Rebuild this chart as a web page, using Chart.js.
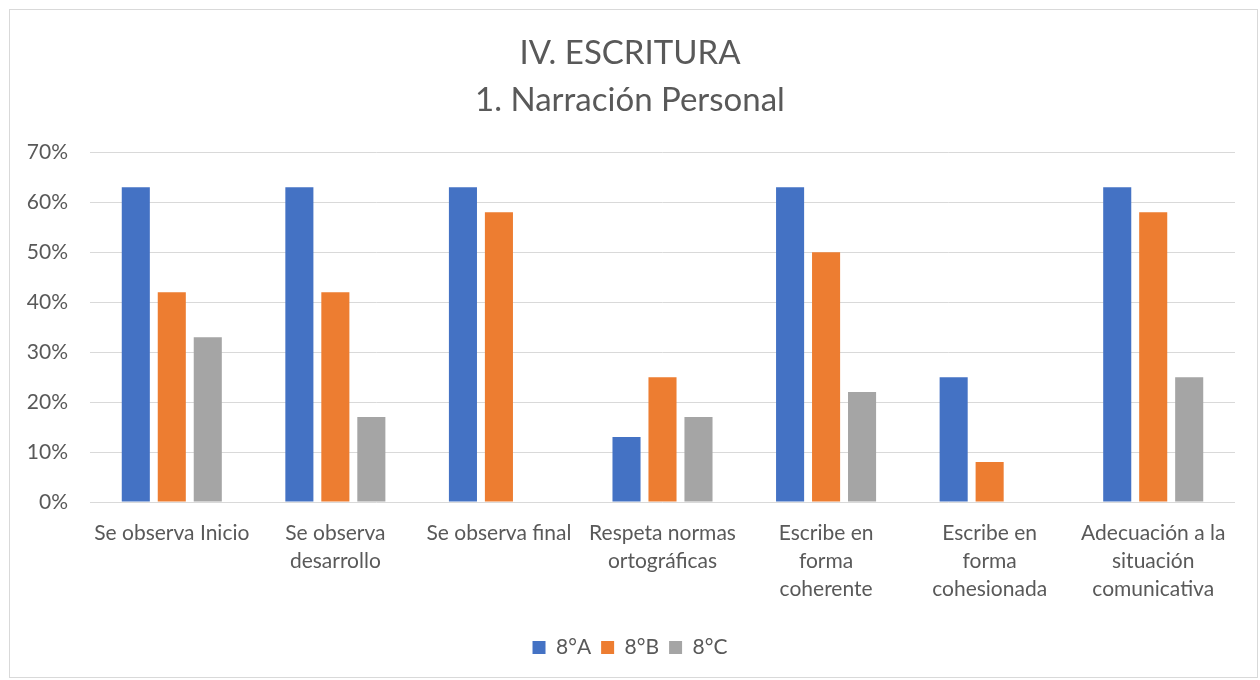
<!DOCTYPE html>
<html>
<head>
<meta charset="utf-8">
<script src="https://cdn.jsdelivr.net/npm/chart.js@4"></script>
<style>
  body { margin: 0; background: #fff; }
  #wrap { width: 1260px; height: 680px; position: relative; }
</style>
</head>
<body>
<div id="wrap"><canvas id="chart"></canvas></div>
<script>
const categories = [
  'Se observa Inicio',
  ['Se observa', 'desarrollo'],
  'Se observa final',
  ['Respeta normas', 'ortográficas'],
  ['Escribe en', 'forma', 'coherente'],
  ['Escribe en', 'forma', 'cohesionada'],
  ['Adecuación a la', 'situación', 'comunicativa']
]
const seriesNames = ['8°A', '8°B', '8°C']
const valuesA = [63, 63, 63, 13, 63, 25, 63]
const valuesB = [42, 42, 58, 25, 50, 8, 58]
const valuesC = [33, 17, 0, 17, 22, 0, 25]
const colors = ['#4472C4', '#ED7D31', '#A5A5A5']
const titleLines = ['IV. ESCRITURA', '1. Narración Personal']

const FONT = 'Lato, "Open Sans", sans-serif'
const TEXT = '#595959'

// light frame around the whole chart
const frame = {
  id: 'frame',
  beforeDraw(chart) {
    const c = chart.ctx
    c.save()
    c.fillStyle = '#fff'
    c.fillRect(0, 0, chart.width, chart.height)
    c.strokeStyle = '#d9d9d9'
    c.lineWidth = 1
    c.strokeRect(9.5, 9.5, chart.width - 12, chart.height - 12)
    c.restore()
  }
}

new Chart(document.getElementById('chart'), {
  type: 'bar',
  data: {
    labels: categories,
    datasets: [valuesA, valuesB, valuesC].map((d, i) => ({
      label: seriesNames[i],
      data: d,
      backgroundColor: colors[i],
      categoryPercentage: 0.66,
      barPercentage: 0.78
    }))
  },
  options: {
    responsive: true,
    maintainAspectRatio: false,
    animation: false,
    layout: { padding: { left: 25, right: 25, top: 10, bottom: 12 } },
    plugins: {
      title: {
        display: true,
        text: titleLines,
        color: TEXT,
        font: { family: FONT, size: 33, weight: 'normal', lineHeight: 1.43 },
        padding: { top: 20, bottom: 28 }
      },
      legend: {
        position: 'bottom',
        labels: {
          color: TEXT,
          font: { family: FONT, size: 21 },
          boxWidth: 13,
          boxHeight: 13,
          padding: 10
        }
      },
      tooltip: { enabled: false }
    },
    scales: {
      y: {
        min: 0,
        max: 70,
        border: { display: false },
        grid: { color: '#d9d9d9', drawTicks: false },
        afterFit(scale) { scale.width = 65 },
        ticks: {
          stepSize: 10,
          padding: 22,
          color: TEXT,
          font: { family: FONT, size: 21 },
          callback: v => v + '%'
        }
      },
      x: {
        border: { display: false },
        grid: { display: false },
        afterFit(scale) { scale.height = 125 },
        ticks: {
          maxRotation: 0,
          autoSkip: false,
          padding: 9,
          color: TEXT,
          font: { family: FONT, size: 21, lineHeight: 1.34 }
        }
      }
    }
  },
  plugins: [frame]
})
</script>
</body>
</html>
